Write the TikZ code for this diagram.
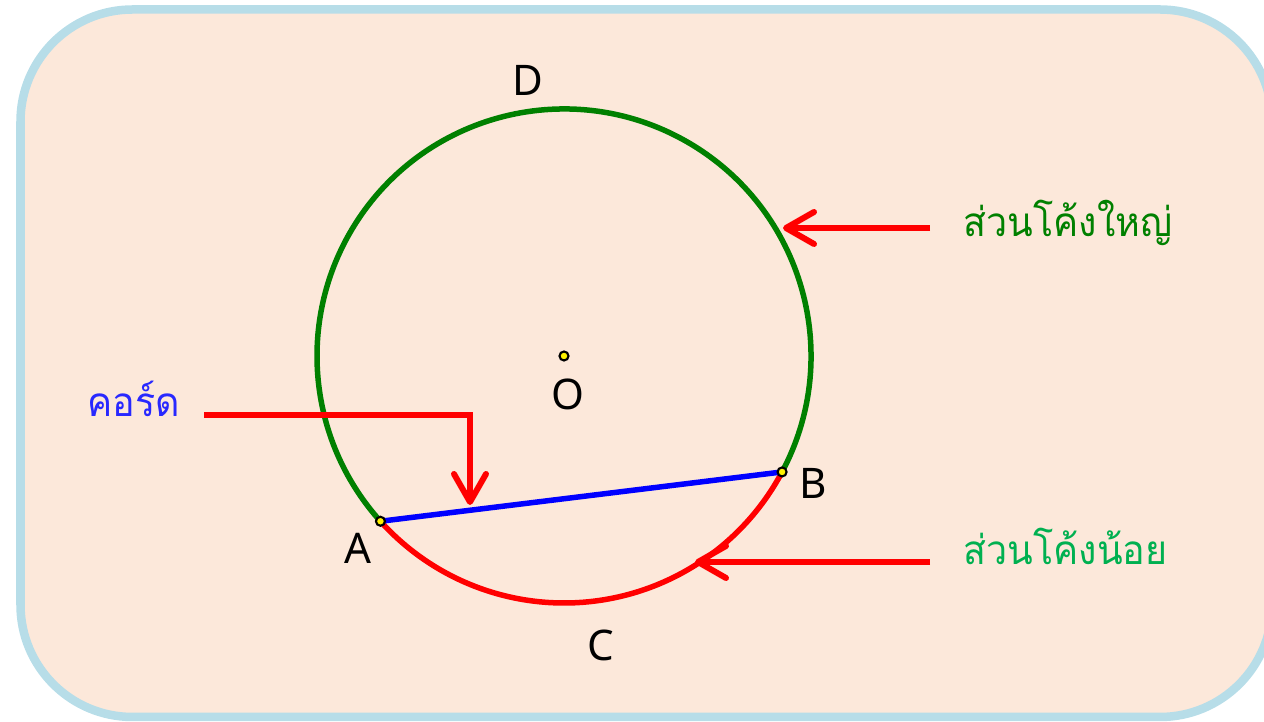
\documentclass[tikz,border=0pt]{standalone}
\usepackage{fontspec}
\setmainfont{Noto Sans}
\newfontfamily\thaifont[Script=Thai,FakeStretch=0.93]{Loma}
\usetikzlibrary{arrows.meta,calc}
\definecolor{bgfill}{RGB}{252,232,218}
\definecolor{bgedge}{RGB}{183,221,232}
\definecolor{majgreen}{RGB}{0,128,0}
\definecolor{minorgreen}{RGB}{0,176,80}
\definecolor{chordblue}{RGB}{40,40,255}
\tikzset{
  arcline/.style={line width=0.055cm},
  pointer/.style={draw=red, line width=0.06cm, -{Straight Barb[length=0.28cm,width=0.32cm,round]}},
  ptdot/.style={circle, draw=black, fill=yellow, line width=0.6pt, inner sep=0pt, minimum size=0.09cm},
  lbl/.style={font=\fontsize{12}{14}\selectfont, inner sep=0pt},
  thlbl/.style={font=\fontsize{11.5}{14}\selectfont\thaifont, inner sep=0pt, anchor=base west}
}
\begin{document}
\begin{tikzpicture}
\useasboundingbox (0,0) rectangle (12.64,7.22);
\clip (0,0) rectangle (12.64,7.22);
% panel (peach with light blue edge)
\filldraw[fill=bgfill, draw=bgedge, line width=0.085cm, rounded corners=1.12cm] (0.205,0.05) rectangle (12.72,7.125);
% centre and chord end points
\coordinate (O) at (5.64,3.66);
\coordinate (A) at ($(O)+(222:2.47)$);
\coordinate (B) at ($(O)+(-28:2.47)$);
% major arc (green) and minor arc (red)
\draw[arcline, majgreen] (B) arc[start angle=-28, end angle=222, radius=2.47];
\draw[arcline, red] (A) arc[start angle=222, end angle=332, radius=2.47];
% chord AB
\draw[arcline, blue] (A) -- (B);
% points
\node[ptdot] (Odot) at (O) {};
\node[ptdot] (Adot) at (A) {};
\node[ptdot] (Bdot) at (B) {};
% point labels
\node[lbl] (Olbl) at (5.68,3.28) {O};
\node[lbl] (Albl) at (3.58,1.74) {A};
\node[lbl] (Blbl) at (8.13,2.39) {B};
\node[lbl] (Clbl) at (6.01,0.77) {C};
\node[lbl] (Dlbl) at (5.28,6.42) {D};
% major arc label and pointer
\node[thlbl, majgreen] (majlbl) at (9.63,4.85) {ส่วนโค้งใหญ่};
\coordinate (majfrom) at (9.30,4.94);
\coordinate (majto) at (7.83,4.94);
\draw[pointer] (majfrom) -- (majto);
% minor arc label and pointer
\node[thlbl, minorgreen] (minlbl) at (9.63,1.57) {ส่วนโค้งน้อย};
\coordinate (minfrom) at (9.30,1.60);
\coordinate (minto) at (6.95,1.60);
\draw[pointer] (minfrom) -- (minto);
% chord label and bent pointer
\node[thlbl, chordblue] (chordlbl) at (0.87,3.05) {คอร์ด};
\coordinate (chordfrom) at (2.04,3.07);
\coordinate (chordbend) at (4.70,3.07);
\coordinate (chordto) at (4.70,2.17);
\draw[pointer] (chordfrom) -- (chordbend) -- (chordto);
\end{tikzpicture}
\end{document}
